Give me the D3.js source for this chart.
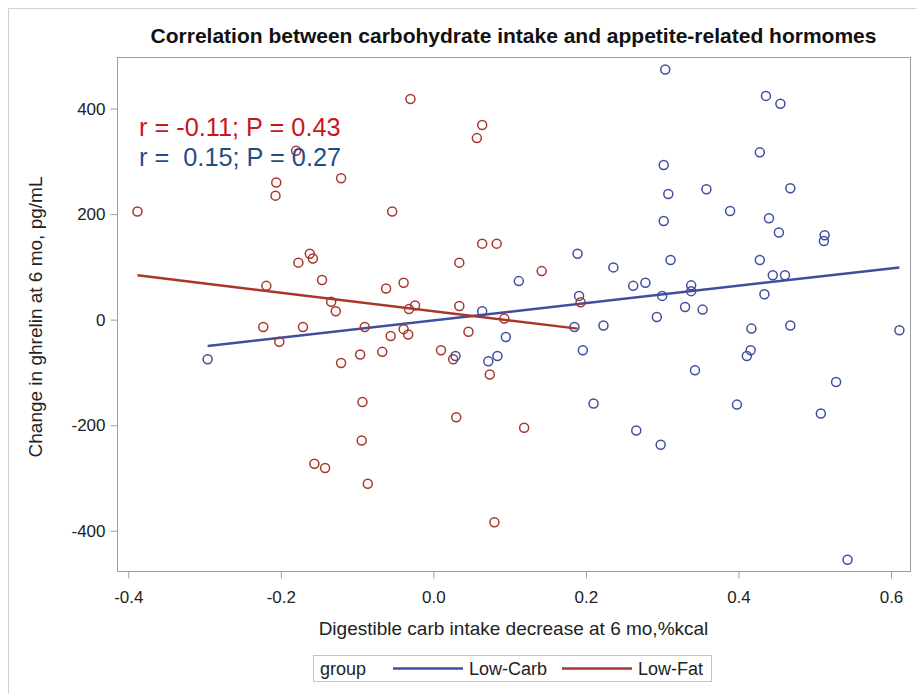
<!DOCTYPE html>
<html>
<head>
<meta charset="utf-8">
<script src="https://cdn.jsdelivr.net/npm/d3@7"></script>
<style>
  html, body { margin: 0; padding: 0; background: #fff; }
  svg { display: block; font-family: "Liberation Sans", Arial, sans-serif; }
</style>
</head>
<body>
<svg id="chart" width="916" height="694"></svg>
<script>
const lowCarbX = [-0.296, 0.304, 0.436, 0.455, 0.428, 0.302, 0.308, 0.358, 0.468, 0.389,
  0.302, 0.440, 0.453, 0.513, 0.512, 0.189, 0.236, 0.311, 0.428, 0.112,
  0.262, 0.278, 0.338, 0.338, 0.445, 0.461, 0.434, 0.300, 0.191, 0.064,
  0.095, 0.223, 0.293, 0.330, 0.353, 0.417, 0.468, 0.611, 0.185, 0.196,
  0.029, 0.072, 0.084, 0.416, 0.411, 0.343, 0.528, 0.210, 0.398, 0.508,
  0.266, 0.298, 0.543];
const lowCarbY = [-75, 474, 424, 409, 317, 293, 238, 247, 249, 206,
  187, 192, 165, 160, 149, 125, 99, 113, 113, 73,
  64, 70, 65, 54, 84, 84, 48, 45, 45, 16,
  -33, -11, 5, 24, 19, -17, -11, -20, -14, -58,
  -69, -79, -69, -58, -69, -96, -118, -159, -161, -178,
  -210, -237, -455];

const lowFatX = [-0.388, -0.030, -0.180, -0.206, -0.207, -0.121, -0.054, -0.177, -0.162, -0.158,
  -0.146, -0.219, -0.134, -0.128, -0.062, -0.039, -0.032, -0.024, 0.034, 0.034,
  -0.223, -0.171, -0.202, -0.090, -0.056, -0.039, -0.033, -0.121, -0.096, -0.067,
  -0.093, -0.094, -0.156, -0.142, -0.086, 0.010, 0.026, 0.030, 0.064, 0.057,
  0.064, 0.083, 0.142, 0.093, 0.046, 0.193, 0.074, 0.119, 0.080];
const lowFatY = [205, 418, 320, 260, 235, 268, 205, 108, 125, 116,
  75, 64, 34, 16, 59, 70, 20, 27, 108, 26,
  -14, -14, -42, -14, -31, -18, -28, -82, -66, -61,
  -156, -229, -273, -281, -311, -58, -75, -185, 369, 344,
  144, 144, 92, 2, -23, 33, -104, -205, -384];

// droites de regression (extremites)
const lowCarbFitX = [-0.296, 0.611];
const lowCarbFitY = [-50, 99];
const lowFatFitX = [-0.388, 0.189];
const lowFatFitY = [84, -17];

const xTicks = [-0.4, -0.2, 0.0, 0.2, 0.4, 0.6];
const xTickLabels = ["-0.4", "-0.2", "0.0", "0.2", "0.4", "0.6"];
const yTicks = [-400, -200, 0, 200, 400];
const yTickLabels = ["-400", "-200", "0", "200", "400"];

const groups = ["Low-Carb", "Low-Fat"];
const stats = ["r = -0.11; P = 0.43", "r =  0.15; P = 0.27"];

// --- mise en page ---
const svg = d3.select("#chart");
const gauche = 117, droite = 910, haut = 57, bas = 571;
const coulBleu = "#3f4e9e", coulRouge = "#a8362b";
const coulGris = "#9a9fa6";

const x = d3.scaleLinear().domain([-0.4148, 0.6249]).range([gauche, droite]);
const y = d3.scaleLinear().domain([-476.3, 497.7]).range([bas, haut]);

// cadre exterieur
svg.append("path")
  .attr("d", `M8.5,694V8.5H916`)
  .attr("fill", "none")
  .attr("stroke", "#d0d0d0");

// titre
svg.append("text")
  .attr("x", (gauche + droite) / 2)
  .attr("y", 43)
  .attr("text-anchor", "middle")
  .style("font-size", "21px")
  .style("font-weight", "bold")
  .attr("fill", "#111")
  .text("Correlation between carbohydrate intake and appetite-related hormomes");

// zone du graphique
svg.append("rect")
  .attr("x", gauche + 0.5).attr("y", haut + 0.5)
  .attr("width", droite - gauche).attr("height", bas - haut)
  .attr("fill", "#fff")
  .attr("stroke", coulGris);

// axes
const axeX = svg.append("g")
  .attr("transform", `translate(0,${bas + 0.5})`)
  .call(d3.axisBottom(x).tickValues(xTicks).tickSize(7).tickSizeOuter(0)
    .tickFormat((d, i) => xTickLabels[i]));
const axeY = svg.append("g")
  .attr("transform", `translate(${gauche + 0.5},0)`)
  .call(d3.axisLeft(y).tickValues(yTicks).tickSize(7).tickSizeOuter(0)
    .tickFormat((d, i) => yTickLabels[i]));

[axeX, axeY].forEach(a => {
  a.select(".domain").remove();
  a.selectAll(".tick line").attr("stroke", coulGris);
  a.selectAll(".tick text")
    .attr("fill", "#222")
    .style("font-size", "17px")
    .style("font-family", "'Liberation Sans', Arial, sans-serif");
});
axeX.selectAll(".tick text").attr("dy", "0.71em").attr("y", 19);
axeY.selectAll(".tick text").attr("x", -12);

// titres des axes
svg.append("text")
  .attr("x", (gauche + droite) / 2)
  .attr("y", 635)
  .attr("text-anchor", "middle")
  .style("font-size", "19px")
  .attr("fill", "#222")
  .text("Digestible carb intake decrease at 6 mo,%kcal");

svg.append("text")
  .attr("transform", `translate(42,${(haut + bas) / 2 + 3}) rotate(-90)`)
  .attr("text-anchor", "middle")
  .style("font-size", "19px")
  .attr("fill", "#222")
  .text("Change in ghrelin at 6 mo, pg/mL");

// droites de regression
const ligne = d3.line().x(d => x(d[0])).y(d => y(d[1]));
svg.append("path")
  .datum(d3.zip(lowCarbFitX, lowCarbFitY))
  .attr("d", ligne)
  .attr("fill", "none")
  .attr("stroke", coulBleu)
  .attr("stroke-width", 2.5);
svg.append("path")
  .datum(d3.zip(lowFatFitX, lowFatFitY))
  .attr("d", ligne)
  .attr("fill", "none")
  .attr("stroke", coulRouge)
  .attr("stroke-width", 2.5);

// points
function dessinerPoints(xs, ys, couleur) {
  svg.append("g")
    .selectAll("circle")
    .data(d3.zip(xs, ys))
    .enter()
    .append("circle")
    .attr("cx", d => x(d[0]))
    .attr("cy", d => y(d[1]))
    .attr("r", 4.5)
    .attr("fill", "none")
    .attr("stroke", couleur)
    .attr("stroke-width", 1.5);
}
dessinerPoints(lowFatX, lowFatY, coulRouge);
dessinerPoints(lowCarbX, lowCarbY, coulBleu);

// coefficients de correlation
svg.append("text")
  .attr("x", 139).attr("y", 136)
  .style("font-size", "25.3px")
  .attr("fill", "#c8161d")
  .style("white-space", "pre")
  .text(stats[0]);
svg.append("text")
  .attr("x", 139).attr("y", 166)
  .style("font-size", "25.3px")
  .attr("fill", "#1f4e87")
  .style("white-space", "pre")
  .text(stats[1]);

// legende
const leg = svg.append("g");
leg.append("rect")
  .attr("x", 313.5).attr("y", 655.5)
  .attr("width", 398).attr("height", 26)
  .attr("fill", "#fff")
  .attr("stroke", "#c4c4c4");
leg.append("text")
  .attr("x", 320).attr("y", 675)
  .style("font-size", "18px")
  .attr("fill", "#222")
  .text("group");
const legPos = [393, 562];
const legCoul = [coulBleu, coulRouge];
groups.forEach((g, i) => {
  leg.append("line")
    .attr("x1", legPos[i]).attr("x2", legPos[i] + 70)
    .attr("y1", 668.5).attr("y2", 668.5)
    .attr("stroke", legCoul[i])
    .attr("stroke-width", 2.5);
  leg.append("text")
    .attr("x", legPos[i] + 76).attr("y", 675)
    .style("font-size", "18px")
    .attr("fill", "#222")
    .text(g);
});
</script>
</body>
</html>
